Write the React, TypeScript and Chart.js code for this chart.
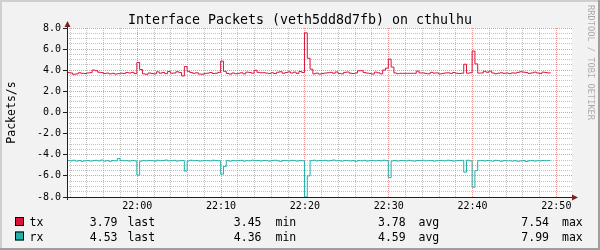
import React, { useEffect, useRef } from 'react';
import { Chart, registerables } from 'chart.js';

Chart.register(...registerables);

const TITLE = 'Interface Packets (veth5dd8d7fb) on cthulhu';
const Y_LABEL = 'Packets/s';
const WATERMARK = 'RRDTOOL / TOBI OETIKER';

// time axis, seconds relative to 22:00
const X_MIN = -503;
const X_MAX = 3112;
const START_SEC = -503;
const STEP_SEC = 20;
const xTickSeconds = [0, 600, 1200, 1800, 2400, 3000];
const xTickLabels = ['22:00', '22:10', '22:20', '22:30', '22:40', '22:50'];

const Y_MIN = -8;
const Y_MAX = 8;

const txValues = [
  3.78, 3.74, 3.62, 3.65, 3.76, 3.71, 3.69, 3.74, 3.77, 4.02,
  3.96, 3.81, 3.78, 3.69, 3.73, 3.66, 3.71, 3.64, 3.68, 3.72,
  3.70, 3.78, 3.74, 3.80, 3.68, 4.73, 4.07, 3.66, 3.62, 3.74,
  3.70, 3.66, 3.85, 3.72, 3.79, 3.68, 3.88, 3.72, 3.74, 3.86,
  3.79, 3.46, 4.35, 3.90, 3.78, 3.71, 3.76, 3.64, 3.62, 3.70,
  3.73, 3.78, 3.69, 3.72, 3.80, 4.86, 3.90, 3.70, 3.64, 3.74,
  3.67, 3.71, 3.76, 3.66, 3.82, 3.79, 3.72, 4.00, 3.80, 3.76,
  3.77, 3.73, 3.70, 3.76, 3.69, 3.81, 3.86, 3.72, 3.78, 3.85,
  3.74, 3.82, 3.70, 3.88, 3.79, 7.54, 5.14, 4.10, 3.66, 3.73,
  3.64, 3.70, 3.73, 3.76, 3.80, 3.72, 3.84, 3.70, 3.66, 3.80,
  3.83, 3.72, 3.69, 3.74, 3.95, 3.96, 3.78, 3.73, 3.70, 3.64,
  3.82, 3.76, 3.66, 4.02, 4.20, 5.05, 4.30, 3.74, 3.68, 3.71,
  3.71, 3.71, 3.71, 3.71, 3.71, 3.92, 3.74, 3.75, 3.70, 3.66,
  3.80, 3.73, 3.75, 3.65, 3.70, 3.74, 3.76, 3.70, 3.78, 3.72,
  3.69, 3.72, 4.57, 3.72, 3.76, 5.81, 4.60, 3.73, 3.74, 3.90,
  3.81, 3.92, 3.74, 3.67, 3.72, 3.76, 3.71, 3.74, 3.68, 3.75,
  3.73, 3.80, 3.86, 3.82, 3.78, 3.70, 3.75, 3.82, 3.74, 3.70,
  3.82, 3.78, 3.74, 3.79,
];

// rx is drawn below zero (negated), values here are as reported
const rxValues = [
  4.55, 4.58, 4.52, 4.60, 4.55, 4.62, 4.57, 4.55, 4.60, 4.56,
  4.53, 4.58, 4.50, 4.60, 4.56, 4.62, 4.55, 4.58, 4.36, 4.55,
  4.57, 4.56, 4.60, 4.55, 4.58, 5.93, 4.60, 4.55, 4.58, 4.54,
  4.56, 4.60, 4.52, 4.57, 4.55, 4.50, 4.58, 4.56, 4.53, 4.60,
  4.56, 4.55, 5.55, 4.58, 4.52, 4.56, 4.55, 4.60, 4.57, 4.54,
  4.56, 4.58, 4.52, 4.55, 4.57, 5.84, 5.10, 4.56, 4.60, 4.54,
  4.57, 4.55, 4.53, 4.60, 4.56, 4.58, 4.52, 4.56, 4.55, 4.59,
  4.54, 4.56, 4.60, 4.55, 4.52, 4.57, 4.62, 4.55, 4.56, 4.58,
  4.53, 4.56, 4.60, 4.55, 4.57, 7.99, 6.00, 4.56, 4.52, 4.58,
  4.55, 4.56, 4.53, 4.58, 4.55, 4.50, 4.57, 4.56, 4.60, 4.54,
  4.56, 4.58, 4.55, 4.62, 4.55, 4.57, 4.53, 4.60, 4.56, 4.54,
  4.58, 4.55, 4.57, 4.52, 4.56, 6.16, 4.58, 4.55, 4.60, 4.54,
  4.56, 4.58, 4.53, 4.57, 4.60, 4.55, 4.56, 4.52, 4.58, 4.56,
  4.55, 4.60, 4.57, 4.54, 4.56, 4.58, 4.52, 4.55, 4.60, 4.56,
  4.55, 4.53, 5.65, 4.52, 4.58, 7.07, 5.50, 4.56, 4.54, 4.58,
  4.55, 4.57, 4.60, 4.53, 4.56, 4.62, 4.55, 4.58, 4.57, 4.60,
  4.56, 4.62, 4.58, 4.55, 4.64, 4.57, 4.55, 4.60, 4.56, 4.58,
  4.55, 4.57, 4.54, 4.53,
];

const seriesNames = ['tx', 'rx'];
const seriesColors = ['#dc143c', '#20b2aa'];
const lastValues = ['3.79', '4.53'];
const minValues = ['3.45', '4.36'];
const avgValues = ['3.78', '4.59'];
const maxValues = ['7.54', '7.99'];

const MONO = '"DejaVu Sans Mono", monospace';
const AXIS_COLOR = 'rgb(31,31,31)';
const ARROW_COLOR = 'rgb(128,31,31)';
const GRID_COLOR = 'rgba(143,143,143,0.55)';
const MGRID_COLOR = 'rgba(222,79,79,0.6)';

const rrdPlugin = {
  id: 'rrdDecor',
  beforeDraw(chart: any) {
    const { ctx, chartArea: a, width, height } = chart;
    ctx.save();
    ctx.fillStyle = '#f2f2f2';
    ctx.fillRect(0, 0, width, height);
    ctx.fillStyle = '#cfcfcf';
    ctx.fillRect(0, 0, width, 2);
    ctx.fillRect(0, 0, 2, height);
    ctx.fillStyle = '#9e9e9e';
    ctx.fillRect(0, height - 2, width, 2);
    ctx.fillRect(width - 2, 0, 2, height);
    ctx.fillStyle = '#ffffff';
    ctx.fillRect(a.left, a.top, a.right - a.left, a.bottom - a.top);
    ctx.restore();
  },
  afterDatasetsDraw(chart: any) {
    const { ctx, chartArea: a } = chart;
    ctx.save();
    ctx.strokeStyle = AXIS_COLOR;
    ctx.lineWidth = 1;
    ctx.beginPath();
    ctx.moveTo(a.left - 3, a.bottom + 0.5);
    ctx.lineTo(a.right + 1, a.bottom + 0.5);
    ctx.moveTo(a.left + 0.5, a.bottom + 3);
    ctx.lineTo(a.left + 0.5, a.top - 3);
    ctx.stroke();
    ctx.fillStyle = ARROW_COLOR;
    ctx.beginPath();
    ctx.moveTo(a.right + 6, a.bottom + 0.5);
    ctx.lineTo(a.right, a.bottom - 2.5);
    ctx.lineTo(a.right, a.bottom + 3.5);
    ctx.closePath();
    ctx.fill();
    ctx.beginPath();
    ctx.moveTo(a.left + 0.5, a.top - 7);
    ctx.lineTo(a.left - 2.5, a.top - 1);
    ctx.lineTo(a.left + 3.5, a.top - 1);
    ctx.closePath();
    ctx.fill();
    ctx.restore();
  },
  afterDraw(chart: any) {
    const { ctx, chartArea: a, width } = chart;
    ctx.save();
    ctx.fillStyle = '#000';
    ctx.textBaseline = 'alphabetic';
    // title
    ctx.font = `13.3px ${MONO}`;
    ctx.textAlign = 'center';
    ctx.fillText(TITLE, width / 2, 24);
    // y label
    ctx.font = `11.5px ${MONO}`;
    ctx.save();
    ctx.translate(15.3, (a.top + a.bottom) / 2);
    ctx.rotate(-Math.PI / 2);
    ctx.textAlign = 'center';
    ctx.fillText(Y_LABEL, 0, 0);
    ctx.restore();
    // watermark
    ctx.save();
    ctx.font = `8.7px ${MONO}`;
    ctx.fillStyle = 'rgba(0,0,0,0.3)';
    ctx.translate(587.7, 5);
    ctx.rotate(Math.PI / 2);
    ctx.textAlign = 'left';
    ctx.fillText(WATERMARK, 0, 0);
    ctx.restore();
    // legend
    ctx.font = `11.5px ${MONO}`;
    const baselines = [226, 240.5];
    seriesNames.forEach((name, i) => {
      const b = baselines[i];
      ctx.fillStyle = seriesColors[i];
      ctx.fillRect(15, b - 9, 9, 9);
      ctx.strokeStyle = '#000';
      ctx.lineWidth = 1;
      ctx.strokeRect(15.5, b - 8.5, 8, 8);
      ctx.fillStyle = '#000';
      ctx.textAlign = 'left';
      ctx.fillText(name, 29.5, b);
      ctx.textAlign = 'right';
      ctx.fillText(lastValues[i], 117.5, b);
      ctx.fillText(minValues[i], 261.5, b);
      ctx.fillText(avgValues[i], 405.7, b);
      ctx.fillText(maxValues[i], 549, b);
      ctx.textAlign = 'left';
      ctx.fillText('last', 127.5, b);
      ctx.fillText('min', 275.5, b);
      ctx.fillText('avg', 418.5, b);
      ctx.fillText('max', 562, b);
    });
    ctx.restore();
  },
};

export default function App() {
  const ref = useRef<HTMLCanvasElement | null>(null);
  useEffect(() => {
    if (!ref.current) return;
    const txData = txValues.map((v, i) => ({ x: START_SEC + i * STEP_SEC, y: v }));
    const rxData = rxValues.map((v, i) => ({ x: START_SEC + i * STEP_SEC, y: -v }));
    const chart = new Chart(ref.current, {
      type: 'line',
      data: {
        datasets: [
          {
            label: seriesNames[0],
            data: txData,
            borderColor: seriesColors[0],
            borderWidth: 1,
            pointRadius: 0,
            stepped: 'before',
            fill: false,
          },
          {
            label: seriesNames[1],
            data: rxData,
            borderColor: seriesColors[1],
            borderWidth: 1,
            pointRadius: 0,
            stepped: 'before',
            fill: false,
          },
        ],
      },
      options: {
        responsive: false,
        animation: false,
        devicePixelRatio: 1,
        layout: { padding: { left: 0, top: 28, right: 28, bottom: 0 } },
        plugins: { legend: { display: false }, tooltip: { enabled: false }, title: { display: false } },
        scales: {
          x: {
            type: 'linear',
            min: X_MIN,
            max: X_MAX,
            afterFit: (s: any) => { s.height = 53; },
            ticks: {
              stepSize: 120,
              includeBounds: false,
              autoSkip: false,
              maxRotation: 0,
              minRotation: 0,
              padding: 3,
              color: '#000',
              font: { family: MONO, size: 10 },
              callback: (v: any) => {
                const idx = xTickSeconds.indexOf(Number(v));
                return idx >= 0 ? xTickLabels[idx] : '';
              },
            },
            grid: {
              drawTicks: false,
              lineWidth: 1,
              color: (c: any) => (c.tick && c.tick.value % 600 === 0 ? MGRID_COLOR : GRID_COLOR),
            },
            border: { display: false, dash: [1, 1] },
          },
          y: {
            type: 'linear',
            min: Y_MIN,
            max: Y_MAX,
            afterFit: (s: any) => { s.width = 67; },
            ticks: {
              stepSize: 0.5,
              includeBounds: false,
              autoSkip: false,
              padding: 2,
              color: '#000',
              font: { family: MONO, size: 10 },
              callback: (v: any) => (Number(v) % 2 === 0 ? Number(v).toFixed(1) : ''),
            },
            grid: {
              drawTicks: true,
              tickLength: 4,
              tickBorderDash: [],
              tickColor: (c: any) => (c.tick && c.tick.value % 2 === 0 ? AXIS_COLOR : 'rgba(0,0,0,0)'),
              lineWidth: 1,
              color: (c: any) => (c.tick && c.tick.value % 2 === 0 ? MGRID_COLOR : GRID_COLOR),
            },
            border: { display: false, dash: [1, 1] },
          },
        },
      },
      plugins: [rrdPlugin],
    } as any);
    return () => chart.destroy();
  }, []);
  return (
    <div style={{ position: 'absolute', left: 0, top: 0, width: 600, height: 250 }}>
      <canvas ref={ref} width={600} height={250} style={{ display: 'block', width: 600, height: 250 }} />
    </div>
  );
}
